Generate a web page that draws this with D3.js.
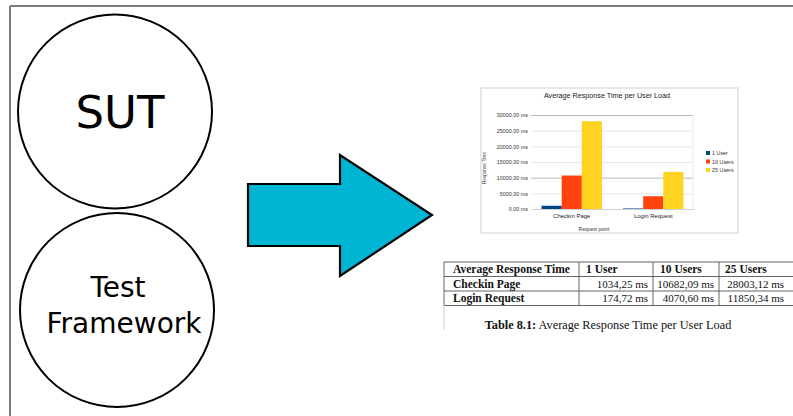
<!DOCTYPE html>
<html>
<head>
<meta charset="utf-8">
<script src="https://cdn.jsdelivr.net/npm/d3@7"></script>
<style>
  html, body { margin: 0; padding: 0; background: #fff; }
  svg { display: block; }
</style>
</head>
<body>
<svg id="fig" width="793" height="416"></svg>
<script>
// Response-time measurements (ms) per request point and user load
const categories = ["Checkin Page", "Login Request"];
const series = ["1 User", "10 Users", "25 Users"];
const oneUser = [1034.25, 174.72];
const tenUsers = [10682.09, 4070.60];
const twentyFiveUsers = [28003.12, 11850.34];
const yTicks = [0, 5000, 10000, 15000, 20000, 25000, 30000];
const seriesColors = ["#004586", "#ff420e", "#ffd320"];

const values = [oneUser, tenUsers, twentyFiveUsers];

const svg = d3.select("#fig");

// European number style: comma as decimal separator
const loc = d3.formatLocale({ decimal: ",", thousands: "", grouping: [3], currency: ["", ""] });
const fmt = v => loc.format(".2f")(v) + " ms";

// ---- page frame ----
svg.append("line").attr("x1", 10).attr("y1", 6).attr("x2", 793).attr("y2", 6)
  .attr("stroke", "#7a7a7a").attr("stroke-width", 2);
svg.append("line").attr("x1", 10).attr("y1", 6).attr("x2", 10).attr("y2", 416)
  .attr("stroke", "#7a7a7a").attr("stroke-width", 2);

// ---- SUT / Test Framework circles ----
const circ = svg.append("g").attr("font-family", "DejaVu Sans, sans-serif").attr("fill", "#000");
circ.append("circle").attr("cx", 115).attr("cy", 111.5).attr("r", 97)
  .attr("fill", "#fff").attr("stroke", "#000").attr("stroke-width", 2);
circ.append("circle").attr("cx", 117).attr("cy", 310).attr("r", 97)
  .attr("fill", "#fff").attr("stroke", "#000").attr("stroke-width", 2);
circ.append("text").attr("x", 120).attr("y", 128).attr("text-anchor", "middle")
  .attr("font-size", 45).text("SUT");
circ.append("text").attr("x", 118).attr("y", 297).attr("text-anchor", "middle")
  .attr("font-size", 28).text("Test");
circ.append("text").attr("x", 124).attr("y", 333).attr("text-anchor", "middle")
  .attr("font-size", 28).text("Framework");

// ---- arrow ----
const arrowPts = [[248, 184], [340, 184], [340, 155], [432, 215], [340, 276], [340, 246], [248, 246]];
svg.append("path").attr("d", d3.line()(arrowPts) + "Z")
  .attr("fill", "#00b4d4").attr("stroke", "#000").attr("stroke-width", 2.2)
  .attr("stroke-linejoin", "miter");

// ---- bar chart panel ----
const chart = svg.append("g").attr("font-family", "Liberation Sans, Arial, sans-serif");
chart.append("rect").attr("x", 481).attr("y", 88).attr("width", 257).attr("height", 145)
  .attr("fill", "#fff").attr("stroke", "#d0d0d0").attr("stroke-width", 1);

chart.append("text").attr("x", 607).attr("y", 98).attr("text-anchor", "middle")
  .attr("font-size", 7.2).attr("fill", "#222").text("Average Response Time per User Load");

const plotL = 531, plotR = 693;
const y = d3.scaleLinear().domain([0, 30000]).range([209, 115]);
const x0 = d3.scaleBand().domain(categories).range([plotL, plotR + 1]);
const x1 = d3.scaleBand().domain(series).range([0, x0.bandwidth()]).paddingOuter(0.525);

// grid + tick labels
const yAxis = chart.append("g").attr("transform", `translate(${plotL},0)`)
  .call(d3.axisLeft(y).tickValues(yTicks).tickSize(-(plotR - plotL)).tickPadding(3).tickFormat(fmt));
yAxis.select(".domain").remove();
yAxis.selectAll(".tick line")
  .attr("stroke", d => (d === 30000 || d === 10000) ? "#b8b8b8" : "#e6e6e6");
yAxis.selectAll(".tick text").attr("font-size", 5.4).attr("fill", "#333")
  .attr("font-family", "Liberation Sans, Arial, sans-serif");

chart.append("line").attr("x1", plotR).attr("x2", plotR).attr("y1", 115).attr("y2", 209)
  .attr("stroke", "#ececec");

// bars
series.forEach((s, si) => {
  chart.append("g").selectAll("rect").data(categories).join("rect")
    .attr("x", c => x0(c) + x1(s))
    .attr("width", x1.bandwidth())
    .attr("y", (c, ci) => y(values[si][ci]))
    .attr("height", (c, ci) => y(0) - y(values[si][ci]))
    .attr("fill", seriesColors[si]);
});

// category axis
const xAxis = chart.append("g").attr("transform", "translate(0,209)")
  .call(d3.axisBottom(x0).tickSize(0).tickPadding(5));
xAxis.select(".domain").attr("stroke", "#d0d0d0");
xAxis.selectAll(".tick text").attr("font-size", 6).attr("fill", "#222")
  .attr("font-family", "Liberation Sans, Arial, sans-serif");

chart.append("text").attr("x", 594).attr("y", 230.5).attr("text-anchor", "middle")
  .attr("font-size", 5).attr("fill", "#333").text("Request point");
chart.append("text").attr("transform", "translate(486,168) rotate(-90)")
  .attr("text-anchor", "middle").attr("font-size", 4.6).attr("fill", "#333").text("Response Time");

// legend
const leg = chart.append("g").selectAll("g").data(series).join("g")
  .attr("transform", (d, i) => `translate(706,${151 + i * 8.5})`);
leg.append("rect").attr("width", 4).attr("height", 4).attr("fill", (d, i) => seriesColors[i]);
leg.append("text").attr("x", 6).attr("y", 4).attr("font-size", 5.4).attr("fill", "#333").text(d => d);

// ---- data table ----
const tbl = svg.append("g").attr("font-family", "Liberation Serif, Times New Roman, serif")
  .attr("font-size", 11.5).attr("fill", "#111");
const colX = [444, 579, 653, 719, 789];
const rowY = [262, 276.5, 291, 305.5];
const lineColor = "#555";
rowY.forEach(ry => tbl.append("line").attr("x1", colX[0]).attr("x2", 793)
  .attr("y1", ry).attr("y2", ry).attr("stroke", lineColor).attr("stroke-width", 0.9));
colX.slice(0, 4).forEach(cx => tbl.append("line").attr("x1", cx).attr("x2", cx)
  .attr("y1", rowY[0]).attr("y2", rowY[3]).attr("stroke", lineColor).attr("stroke-width", 0.9));
svg.append("line").attr("x1", 444).attr("x2", 444).attr("y1", 305.5).attr("y2", 330)
  .attr("stroke", "#cfcfcf").attr("stroke-width", 1);

const header = ["Average Response Time"].concat(series);
const headerPad = [9, 7, 7, 6];
header.forEach((h, i) => tbl.append("text").attr("x", colX[i] + headerPad[i])
  .attr("y", rowY[0] + 11.2).attr("font-weight", "bold").text(h));
categories.forEach((c, ci) => {
  const by = rowY[ci + 1] + 11.2;
  tbl.append("text").attr("x", colX[0] + 9).attr("y", by).attr("font-weight", "bold").text(c);
  values.forEach((vals, si) => {
    tbl.append("text").attr("x", colX[si + 2] - 5).attr("y", by)
      .attr("text-anchor", "end").attr("font-size", 11).text(fmt(vals[ci]));
  });
});

const cap = tbl.append("text").attr("x", 608).attr("y", 328.5).attr("text-anchor", "middle")
  .attr("font-size", 12.3);
cap.append("tspan").attr("font-weight", "bold").text("Table 8.1:");
cap.append("tspan").text(" Average Response Time per User Load");
</script>
</body>
</html>
